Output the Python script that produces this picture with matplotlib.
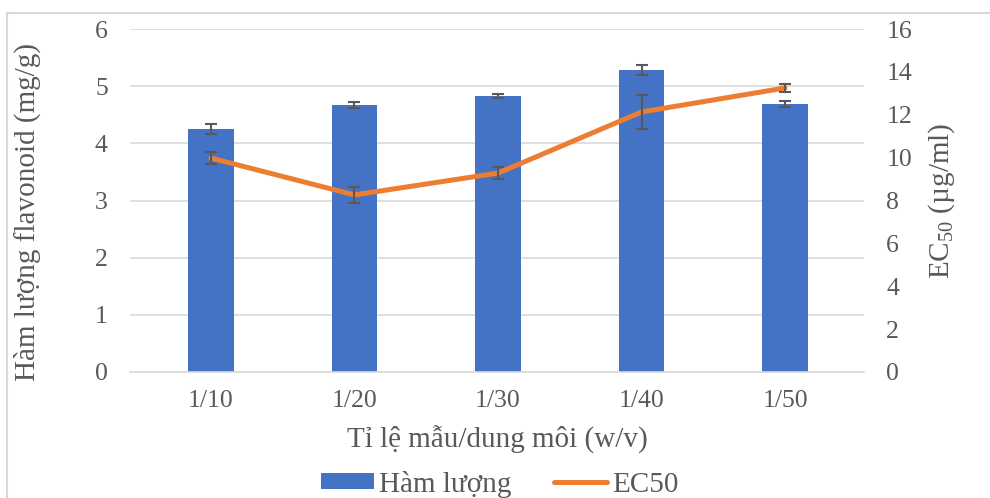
import matplotlib
matplotlib.use("Agg")
import matplotlib.pyplot as plt
import numpy as np

plt.rcParams["font.family"] = ["Liberation Serif", "DejaVu Serif"]
plt.rcParams["mathtext.fontset"] = "custom"
plt.rcParams["mathtext.rm"] = "Liberation Serif"

ratios = ["1/10", "1/20", "1/30", "1/40", "1/50"]
flavonoid = [4.25, 4.67, 4.83, 5.28, 4.69]
flavonoid_err = [0.08, 0.06, 0.04, 0.09, 0.05]
ec50 = [9.98, 8.26, 9.28, 12.13, 13.25]
ec50_err = [0.3, 0.37, 0.3, 0.8, 0.2]

BLUE = "#4472C4"; ORANGE = "#ED7D31"; GRID = "#d9d9d9"; TXT = "#595959"

W, H = 990, 498
fig = plt.figure(figsize=(W / 100, H / 100), dpi=100)
# plot area in pixels: x 130..864, y 29..372
ax = fig.add_axes([130 / W, 1 - 372 / H, 734 / W, 343 / H])
x = np.arange(len(ratios))
ax.bar(x, flavonoid, width=0.32, color=BLUE, label="Hàm lượng", zorder=2,
       yerr=flavonoid_err, error_kw=dict(ecolor=TXT, elinewidth=1.5, capsize=4.5, capthick=1.5))
ax.set_ylim(0, 6)
ax.set_xlim(-0.564, 4.55)
ax.set_yticks(range(0, 7))
ax.grid(axis="y", color=GRID, linewidth=1.2, zorder=0)
ax.set_axisbelow(True)
for s in ["left", "right", "top"]:
    ax.spines[s].set_visible(False)
ax.spines["bottom"].set_color(GRID)
ax.spines["bottom"].set_linewidth(1.2)
ax.set_xticks(x)
ax.set_xticklabels(ratios)
ax.tick_params(axis="y", length=0, labelsize=18.5, colors=TXT, pad=16)
ax.tick_params(axis="x", length=0, labelsize=18.5, colors=TXT, pad=13)
ax.set_ylabel("Hàm lượng flavonoid (mg/g)", fontsize=21, color=TXT, va="center")
ax.yaxis.set_label_coords(-0.140, 0.466)
ax.set_xlabel("Tỉ lệ mẫu/dung môi (w/v)", fontsize=21, color=TXT, labelpad=10)

ax2 = ax.twinx()
ax2.plot(x, ec50, color=ORANGE, linewidth=3.6, label="EC50", zorder=3, solid_capstyle="round")
ax2.errorbar(x, ec50, yerr=ec50_err, fmt="none", ecolor=TXT, elinewidth=1.5, capsize=4.5, capthick=1.5, zorder=4)
ax2.set_ylim(0, 16)
ax2.set_yticks(range(0, 17, 2))
for s in ["left", "right", "top", "bottom"]:
    ax2.spines[s].set_visible(False)
ax2.tick_params(length=0, labelsize=18.5, colors=TXT, pad=16)
ax2.set_ylabel(r"EC$_{\mathrm{50}}$ (µg/ml)", fontsize=21, color=TXT, labelpad=10)

h1, l1 = ax.get_legend_handles_labels()
h2, l2 = ax2.get_legend_handles_labels()
leg = fig.legend(h1 + h2, l1 + l2, loc="center", bbox_to_anchor=(0.505, 1 - 484 / H), ncol=2,
                 frameon=False, fontsize=21, handlelength=1.8, handleheight=0.5,
                 handletextpad=0.2, columnspacing=1.45)
for t in leg.get_texts():
    t.set_color(TXT)

fig.add_artist(plt.Line2D([7 / W, 7 / W], [0, 1 - 13 / H], transform=fig.transFigure, color=GRID, linewidth=1.5))
fig.add_artist(plt.Line2D([7 / W, 1], [1 - 13 / H, 1 - 13 / H], transform=fig.transFigure, color=GRID, linewidth=1.5))
fig.savefig("out.png", dpi=100)
